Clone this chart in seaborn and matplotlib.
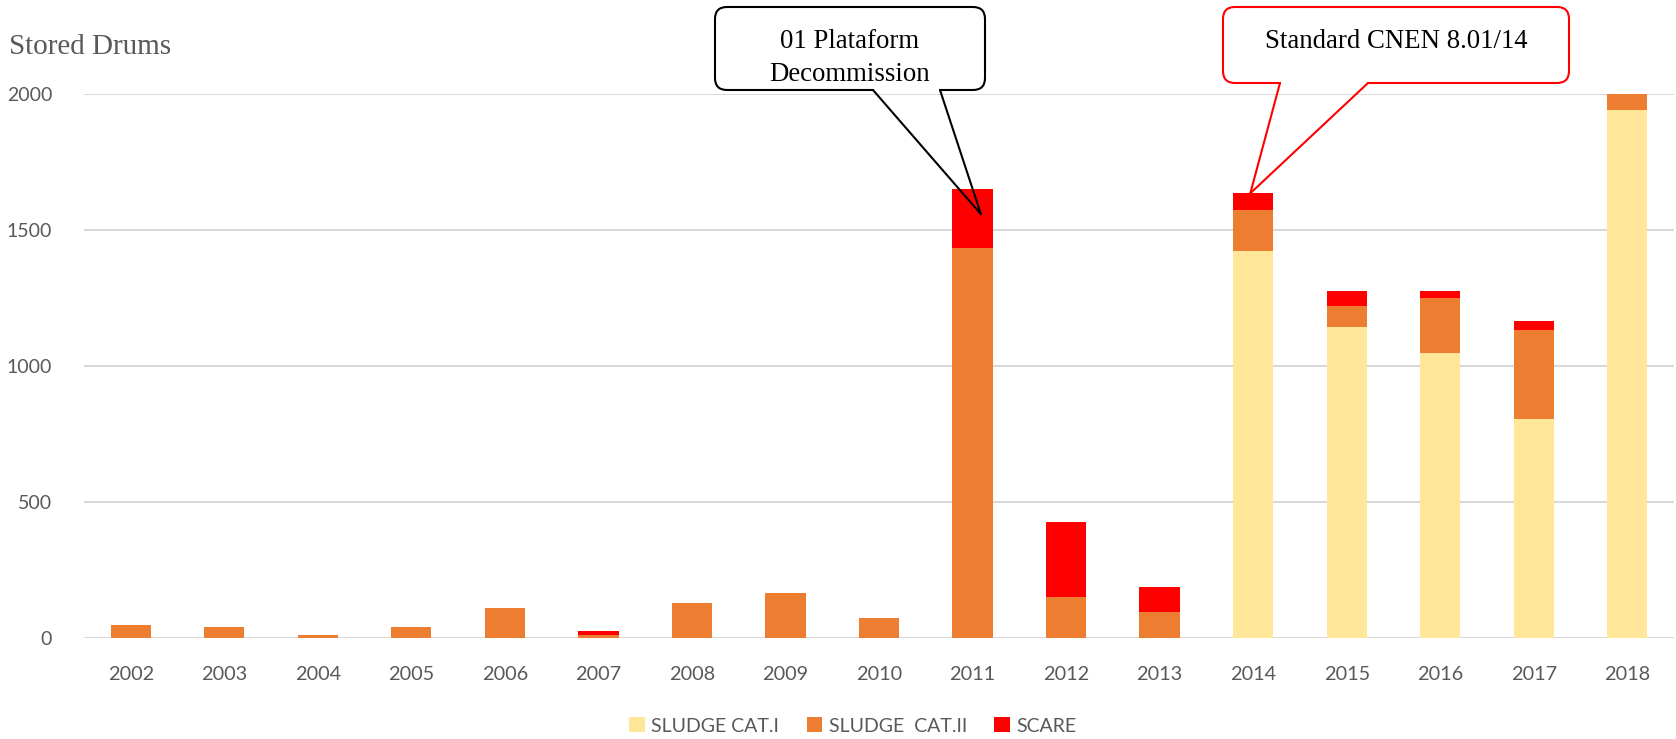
import numpy as np
import pandas as pd
import matplotlib.pyplot as plt
import seaborn as sns
from matplotlib.patches import FancyBboxPatch, Rectangle, Patch
from matplotlib.lines import Line2D
from matplotlib.transforms import IdentityTransform

years = ["2002", "2003", "2004", "2005", "2006", "2007", "2008", "2009", "2010",
         "2011", "2012", "2013", "2014", "2015", "2016", "2017", "2018"]
sludge_cat1 = [0, 0, 0, 0, 0, 0, 0, 0, 0, 0, 0, 0, 1423, 1143, 1047, 804, 1942]
sludge_cat2 = [49, 42, 11, 42, 112, 10, 128, 167, 72, 1432, 152, 95, 151, 76, 203, 329, 65]
scare = [0, 0, 0, 0, 0, 17, 0, 0, 0, 220, 273, 94, 61, 55, 24, 31, 0]

labels = ["SLUDGE CAT.I", "SLUDGE  CAT.II", "SCARE"]
colors = ["#FFE699", "#ED7D31", "#FF0000"]
grey = "#595959"

df = pd.DataFrame({"year": years, "cat1": sludge_cat1, "cat2": sludge_cat2, "scare": scare})
df["lvl1"] = df["cat1"]
df["lvl2"] = df["cat1"] + df["cat2"]
df["lvl3"] = df["lvl2"] + df["scare"]

sns.set_style("white")
plt.rcParams["font.family"] = ["Lato", "DejaVu Sans"]

W, H = 1676, 739
fig = plt.figure(figsize=(W / 100, H / 100), dpi=100)
ax = fig.add_axes([84 / W, 1 - 638 / H, (1674 - 84) / W, (638 - 94) / H])

# stacked bars: draw cumulative totals from the top down
for col, c in zip(["lvl3", "lvl2", "lvl1"], colors[::-1]):
    sns.barplot(data=df, x="year", y=col, color=c, width=0.43, ax=ax,
                saturation=1, edgecolor="none", linewidth=0, zorder=3)

ax.set_ylim(0, 2000)
ax.set_yticks([0, 500, 1000, 1500, 2000])
ax.yaxis.grid(True, color="#D9D9D9", linewidth=1.5, zorder=0)
ax.set_axisbelow(True)
for s in ax.spines.values():
    s.set_visible(False)
ax.set_xlabel("")
ax.set_ylabel("")
ax.tick_params(axis="y", length=0, pad=23, labelsize=14, labelcolor=grey)
ax.tick_params(axis="x", length=0, pad=20, labelsize=14.3, labelcolor=grey)

fig.text(9 / W, 1 - 47 / H, "Stored Drums", family="Liberation Serif",
         fontsize=21, color=grey, ha="left", va="center")

handles = [Patch(facecolor=c, edgecolor="none") for c in colors]
fig.legend(handles, labels, loc="center", bbox_to_anchor=(853 / W, 1 - 726 / H),
           ncol=3, frameon=False, fontsize=14, labelcolor=grey,
           handlelength=0.8, handleheight=0.8, handletextpad=0.35, columnspacing=1.4)


def callout(x0, x1, y0, y1, bx0, bx1, tip, text, ty, ec):
    # box given in image pixels (y from top); tip in data coords
    ident = IdentityTransform()
    box = FancyBboxPatch((x0, H - y1), x1 - x0, y1 - y0,
                         boxstyle="round,pad=0,rounding_size=12",
                         facecolor="white", edgecolor=ec, linewidth=1.5,
                         transform=ident, zorder=10)
    fig.add_artist(box)
    fig.add_artist(Rectangle((bx0 + 1, H - y1 - 3), bx1 - bx0 - 2, 6, facecolor="white",
                             edgecolor="none", transform=ident, zorder=11))
    tx, tyy = ax.transData.transform(tip)
    for bx in (bx0, bx1):
        fig.add_artist(Line2D([bx, tx], [H - y1, tyy], color=ec, linewidth=1.5,
                              transform=ident, zorder=12))
    fig.text((x0 + x1) / 2 / W, 1 - ty / H, text, family="Liberation Serif",
             fontsize=19.3, color="black", ha="center", va="center",
             linespacing=1.4, zorder=13)


callout(715, 985, 7, 90, 873, 940, (9.09, 1558),
        "01 Plataform\nDecommission", 58, "black")
callout(1223, 1569, 7, 83, 1280, 1368, (11.97, df["lvl3"][12]),
        "Standard CNEN 8.01/14", 42, "#FF0000")

fig.savefig("out.png", dpi=100)
